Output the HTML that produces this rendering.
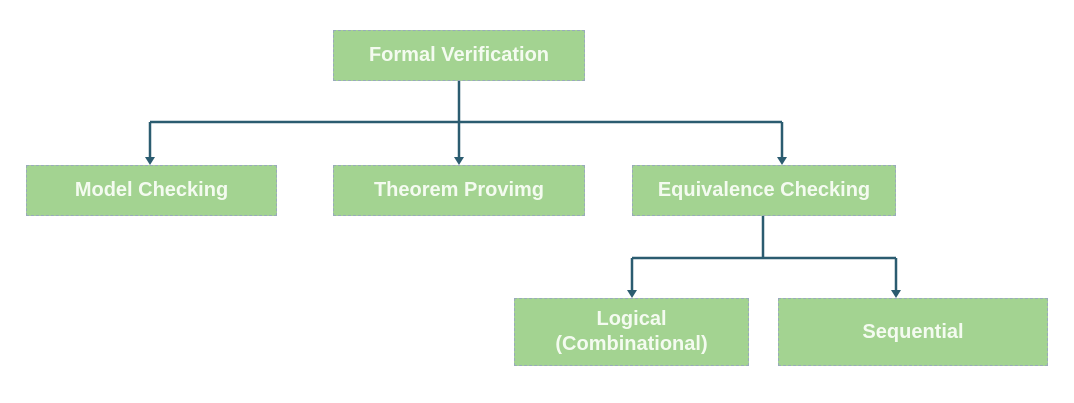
<!DOCTYPE html>
<html><head><style>
body{margin:0;width:1074px;height:403px;background:#fff;position:relative;overflow:hidden;font-family:"Liberation Sans",sans-serif}
.b{position:absolute;background:#a3d391;border:1px dashed #9ab;box-sizing:border-box;color:#f4fbf0;font-size:20px;font-weight:bold;display:flex;align-items:center;justify-content:center;text-align:center;line-height:25px}
</style></head><body>
<svg width="1074" height="403" style="position:absolute;left:0;top:0">
<g stroke="#2b5c70" stroke-width="2.5" fill="none">
<path d="M459 81V158M150 122H782M150 122V158M782 122V158"/>
<path d="M763 216V258M632 258H896M632 258V291M896 258V291"/>
</g>
<g fill="#2b5c70">
<path d="M145 157h10l-5 8z"/><path d="M454 157h10l-5 8z"/><path d="M777 157h10l-5 8z"/>
<path d="M627 290h10l-5 8z"/><path d="M891 290h10l-5 8z"/>
</g>
</svg>
<div class="b" style="left:333px;top:30px;width:252px;height:51px">Formal Verification</div>
<div class="b" style="left:26px;top:165px;width:251px;height:51px">Model Checking</div>
<div class="b" style="left:333px;top:165px;width:252px;height:51px">Theorem Provimg</div>
<div class="b" style="left:632px;top:165px;width:264px;height:51px">Equivalence Checking</div>
<div class="b" style="left:514px;top:298px;width:235px;height:68px">Logical<br>(Combinational)</div>
<div class="b" style="left:778px;top:298px;width:270px;height:68px">Sequential</div>
</body></html>
